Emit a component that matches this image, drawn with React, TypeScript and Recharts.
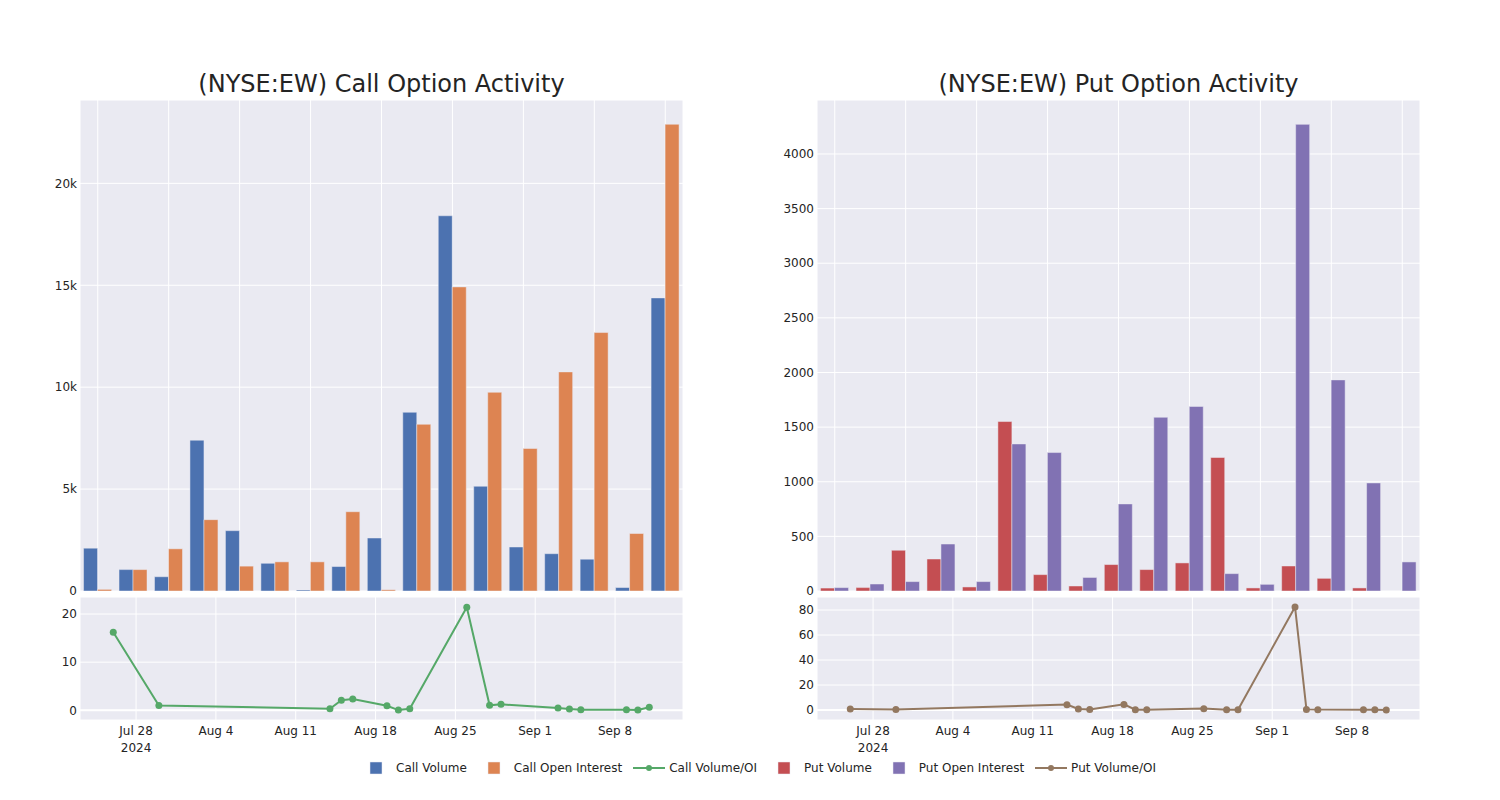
import {
  BarChart,
  Bar,
  LineChart,
  Line,
  XAxis,
  YAxis,
  CartesianGrid,
  ReferenceLine,
} from "recharts";

// trading days shown in both panels
const dates = [
  "2024-07-26", "2024-07-30", "2024-08-14", "2024-08-15", "2024-08-16",
  "2024-08-19", "2024-08-20", "2024-08-21", "2024-08-26", "2024-08-28",
  "2024-08-29", "2024-09-03", "2024-09-04", "2024-09-05", "2024-09-09",
  "2024-09-10", "2024-09-11",
];

const callVolume = [2100, 1050, 700, 7400, 2960, 1360, 50, 1200, 2600, 8770, 18410, 5140, 2160, 1830, 1560, 170, 14380];
const callOpenInterest = [80, 1050, 2070, 3500, 1220, 1430, 1430, 3890, 60, 8180, 14920, 9750, 6990, 10750, 12680, 2820, 22900];
const callRatio = [16.2, 1.0, 0.33, 2.1, 2.35, 0.95, 0.05, 0.33, 21.4, 1.04, 1.24, 0.48, 0.27, 0.14, 0.14, 0.07, 0.62];

const putVolume = [27, 31, 373, 293, 37, 1551, 150, 46, 242, 196, 257, 1222, 28, 229, 116, 28, 0];
const putOpenInterest = [31, 64, 86, 430, 86, 1346, 1267, 124, 797, 1590, 1689, 159, 61, 4271, 1932, 989, 266];
const putRatio = [0.8, 0.5, 4.3, 0.8, 0.5, 4.5, 0.3, 0.3, 1.1, 0.3, 0.3, 82.4, 0.5, 0.3, 0.2, 0.2, 0];

const weekTicks = ["2024-07-28", "2024-08-04", "2024-08-11", "2024-08-18", "2024-08-25", "2024-09-01", "2024-09-08"];
const callBarTicks = [0, 5000, 10000, 15000, 20000];
const putBarTicks = [0, 500, 1000, 1500, 2000, 2500, 3000, 3500, 4000];
const callRatioTicks = [0, 10, 20];
const putRatioTicks = [0, 20, 40, 60, 80];

const MONTHS = ["Jan", "Feb", "Mar", "Apr", "May", "Jun", "Jul", "Aug", "Sep", "Oct", "Nov", "Dec"];
const toTs = (d: string) => {
  const [y, m, day] = d.split("-").map(Number);
  return Date.UTC(y, m - 1, day);
};

const C = {
  bg: "#eaeaf2",
  text: "rgb(36,36,36)",
  blue: "#4c72b0",
  orange: "#dd8452",
  green: "#55a868",
  red: "#c44e52",
  purple: "#8172b3",
  brown: "#937860",
};
const FONT = '"DejaVu Sans", sans-serif';

const callBars = dates.map((d, i) => ({ date: d, vol: callVolume[i], oi: callOpenInterest[i] }));
const putBars = dates.map((d, i) => ({ date: d, vol: putVolume[i], oi: putOpenInterest[i] }));
const callLine = dates.map((d, i) => ({ t: toTs(d), v: callRatio[i] }));
const putLine = dates.map((d, i) => ({ t: toTs(d), v: putRatio[i] }));

const xDomain = [Date.UTC(2024, 6, 23, 2), Date.UTC(2024, 8, 13, 23)];
const tickStyle = { fill: C.text, fontSize: 12, fontFamily: FONT };

const DateTick = ({ x, y, payload }: any) => {
  const d = new Date(payload.value);
  const label = `${MONTHS[d.getUTCMonth()]} ${d.getUTCDate()}`;
  const first = payload.value === toTs(weekTicks[0]);
  return (
    <g>
      <text x={x} y={y + 13} textAnchor="middle" {...tickStyle}>
        {label}
      </text>
      {first && (
        <text x={x} y={y + 30} textAnchor="middle" {...tickStyle}>
          {d.getUTCFullYear()}
        </text>
      )}
    </g>
  );
};

// bar x-axis has no labels, only its grid lines
const NoTick = () => <g />;

const kFmt = (v: number) => (v === 0 ? "0" : `${v / 1000}k`);

function Panel({
  left,
  title,
  bars,
  barDomain,
  barTicks,
  barFmt,
  volColor,
  oiColor,
  line,
  lineDomain,
  lineTicks,
  lineColor,
}: any) {
  return (
    <>
      <div
        style={{
          position: "absolute",
          left: left + 80,
          width: 603,
          top: 69,
          textAlign: "center",
          fontFamily: FONT,
          fontSize: 24,
          lineHeight: "30px",
          color: C.text,
        }}
      >
        {title}
      </div>
      <div style={{ position: "absolute", left, top: 0 }}>
        {/* extra bottom margin so the "0" label isn't clipped */}
        <BarChart
          width={700}
          height={600}
          data={bars}
          margin={{ top: 100, right: 17, bottom: 9, left: 0 }}
          barCategoryGap="10%"
          barGap={0}
        >
          <CartesianGrid fill={C.bg} fillOpacity={1} stroke="#fff" strokeWidth={1} />
          <XAxis
            dataKey="date"
            interval={1}
            tick={<NoTick />}
            tickLine={false}
            axisLine={false}
            height={0}
          />
          <YAxis
            width={80}
            domain={barDomain}
            ticks={barTicks}
            interval={0}
            allowDataOverflow
            tickFormatter={barFmt}
            tick={tickStyle}
            tickLine={false}
            axisLine={false}
            tickSize={0}
            tickMargin={3}
          />
          <Bar dataKey="vol" fill={volColor} stroke={C.bg} strokeWidth={0.5} isAnimationActive={false} />
          <Bar dataKey="oi" fill={oiColor} stroke={C.bg} strokeWidth={0.5} isAnimationActive={false} />
        </BarChart>
      </div>
      <div style={{ position: "absolute", left, top: 590 }}>
        <LineChart
          width={700}
          height={180}
          data={line}
          margin={{ top: 7, right: 17, bottom: 0, left: 0 }}
        >
          <CartesianGrid fill={C.bg} fillOpacity={1} stroke="#fff" strokeWidth={1} />
          <XAxis
            dataKey="t"
            type="number"
            scale="time"
            domain={xDomain}
            ticks={weekTicks.map(toTs)}
            interval={0}
            allowDataOverflow
            tick={<DateTick />}
            tickLine={false}
            axisLine={false}
            height={50}
            tickSize={0}
          />
          <YAxis
            width={80}
            domain={lineDomain}
            ticks={lineTicks}
            interval={0}
            allowDataOverflow
            tick={tickStyle}
            tickLine={false}
            axisLine={false}
            tickSize={0}
            tickMargin={3}
          />
          <ReferenceLine y={0} stroke="#fff" strokeWidth={2} />
          <Line
            dataKey="v"
            stroke={lineColor}
            strokeWidth={2}
            dot={{ r: 3.5, fill: lineColor, stroke: lineColor, strokeWidth: 0 }}
            isAnimationActive={false}
          />
        </LineChart>
      </div>
    </>
  );
}

const legendItems = [
  { label: "Call Volume", color: C.blue, kind: "bar" },
  { label: "Call Open Interest", color: C.orange, kind: "bar" },
  { label: "Call Volume/OI", color: C.green, kind: "line" },
  { label: "Put Volume", color: C.red, kind: "bar" },
  { label: "Put Open Interest", color: C.purple, kind: "bar" },
  { label: "Put Volume/OI", color: C.brown, kind: "line" },
];

export default function App() {
  return (
    <div
      style={{
        position: "absolute",
        left: 0,
        top: 0,
        width: 1500,
        height: 800,
        background: "#fff",
        fontFamily: FONT,
      }}
    >
      <Panel
        left={0}
        title="(NYSE:EW) Call Option Activity"
        bars={callBars}
        barDomain={[0, 24090]}
        barTicks={callBarTicks}
        barFmt={kFmt}
        volColor={C.blue}
        oiColor={C.orange}
        line={callLine}
        lineDomain={[-2.01, 23.53]}
        lineTicks={callRatioTicks}
        lineColor={C.green}
      />
      <Panel
        left={737}
        title="(NYSE:EW) Put Option Activity"
        bars={putBars}
        barDomain={[0, 4494]}
        barTicks={putBarTicks}
        barFmt={(v: number) => String(v)}
        volColor={C.red}
        oiColor={C.purple}
        line={putLine}
        lineDomain={[-8, 90.4]}
        lineTicks={putRatioTicks}
        lineColor={C.brown}
      />
      {/* legend */}
      <div
        style={{
          position: "absolute",
          left: 356,
          top: 759,
          display: "flex",
          alignItems: "center",
          height: 18,
          fontSize: 12,
          color: C.text,
          whiteSpace: "nowrap",
        }}
      >
        {legendItems.map((it) => (
          <div key={it.label} style={{ display: "flex", alignItems: "center", marginRight: 7 }}>
            <svg width={40} height={18}>
              {it.kind === "bar" ? (
                <rect x={14} y={3} width={12} height={12} fill={it.color} stroke={C.bg} strokeWidth={0.5} />
              ) : (
                <>
                  <line x1={4} x2={36} y1={9} y2={9} stroke={it.color} strokeWidth={2} />
                  <circle cx={20} cy={9} r={3} fill={it.color} />
                </>
              )}
            </svg>
            <span>{it.label}</span>
          </div>
        ))}
      </div>
    </div>
  );
}
